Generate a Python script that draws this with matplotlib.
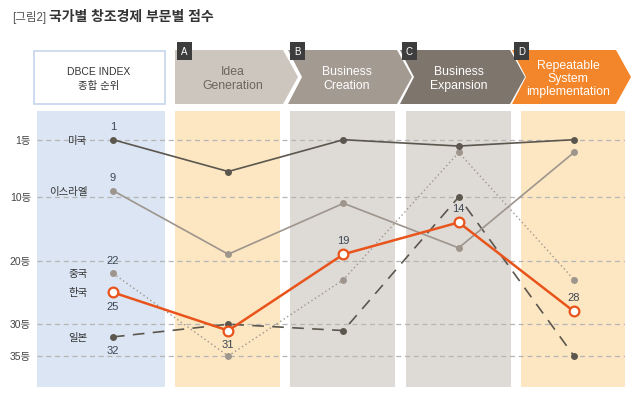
import matplotlib
matplotlib.use('Agg')
import matplotlib.pyplot as plt
from matplotlib.patches import Polygon, Rectangle

plt.rcParams['font.family'] = ['Liberation Sans', 'Noto Sans CJK KR']

# data: rank per stage (lower = better)
stages = ['DBCE INDEX\n종합 순위', 'Idea\nGeneration', 'Business\nCreation',
          'Business\nExpansion', 'Repeatable\nSystem\nimplementation']
stage_letters = ['A', 'B', 'C', 'D']
usa = [1, 6, 1, 2, 1]
israel = [9, 19, 11, 18, 3]
china = [22, 35, 23, 3, 23]
korea = [25, 31, 19, 14, 28]
japan = [32, 30, 31, 10, 35]
country_names = ['미국', '이스라엘', '중국', '한국', '일본']
rank_ticks = [1, 10, 20, 30, 35]
rank_labels = ['1등', '10등', '20등', '30등', '35등']

DARK = '#5b574e'
GREY = '#9e958d'
ORANGE = '#e8541b'
LABEL = '#3b4754'

fig = plt.figure(figsize=(6.4, 4.02), dpi=100)

# header layer in pixel coords
hdr = fig.add_axes([0, 0, 1, 1])
hdr.set_xlim(0, 640)
hdr.set_ylim(402, 0)
hdr.axis('off')

hdr.text(12, 17, '[그림2]', fontsize=8.3, color='#555555', va='center', ha='left')
hdr.text(49, 17, '국가별 창조경제 부문별 점수', fontsize=10, fontweight='bold',
         color='#333333', va='center', ha='left')

hdr.add_patch(Rectangle((34, 52), 131, 53, facecolor='white', edgecolor='#c6d6ee', lw=1.2))
hdr.text(99, 79, stages[0], ha='center', va='center', fontsize=7.5, color='#333333',
         linespacing=1.6)

chev_colors = ['#cdc6bf', '#a39a92', '#7e756d', '#f3862b']
chev_text = ['#6e655d', 'white', 'white', 'white']
lefts = [175, 288, 400, 512]
rights = [283, 397, 510, 616]
for i in range(4):
    l, r = lefts[i], rights[i]
    top, bot, mid = 51, 105, 78
    if i == 0:
        pts = [(l, top), (r, top), (r + 15, mid), (r, bot), (l, bot)]
    else:
        pts = [(l, top), (r, top), (r + 15, mid), (r, bot), (l, bot), (l + 14, mid)]
    hdr.add_patch(Polygon(pts, closed=True, facecolor=chev_colors[i], edgecolor='none'))
    hdr.add_patch(Rectangle((l + 2, 43), 15, 18, facecolor='#3d3d3d', edgecolor='none'))
    hdr.text(l + 9.5, 52, stage_letters[i], color='white', fontsize=7, ha='center', va='center')
    hdr.text((l + r) / 2 + 4, mid + 1, stages[i + 1], ha='center', va='center',
             fontsize=8.8, color=chev_text[i], linespacing=1.15)

# main chart
ax = fig.add_axes([37 / 640, 1 - 388 / 402, (625 - 37) / 640, (388 - 112) / 402])
ax.set_xlim(-0.659, 4.4425)
ax.set_ylim(39.87, -3.51)
ax.axis('off')

panel_cols = ['#dbe5f3', '#fde7c2', '#dedad6', '#dedad6', '#fde7c2']
for i, c in enumerate(panel_cols):
    lo = -0.659 if i == 0 else i - 0.46
    ax.axvspan(lo, i + 0.45, color=c, lw=0, zorder=0)

for t in rank_ticks:
    ax.axhline(t, color='#b5b5b5', lw=0.9, ls=(0, (4, 3)), zorder=1)
for t, lab in zip(rank_ticks, rank_labels):
    ax.text(-0.71, t, lab, ha='right', va='center', fontsize=7.5, color='#444444', clip_on=False)

x = range(len(stages))
ax.plot(x, china, color=GREY, lw=1, ls=(0, (1, 2)), marker='o', ms=5, mec='none', zorder=2)
ax.plot(x, japan, color=DARK, lw=1.2, ls=(0, (7, 5)), marker='o', ms=5, mec='none', zorder=2)
ax.plot(x, israel, color=GREY, lw=1.2, marker='o', ms=5, mec='none', zorder=3)
ax.plot(x, usa, color=DARK, lw=1.2, marker='o', ms=5, mec='none', zorder=3)
ax.plot(x, korea, color=ORANGE, lw=1.8, marker='o', ms=7, mfc='white', mec=ORANGE,
        mew=1.6, zorder=4)

# country names
for name, series in zip(country_names, [usa, israel, china, korea, japan]):
    ax.text(-0.22, series[0], name, ha='right', va='center', fontsize=7.5, color='#333333')

# value labels
lab_kw = dict(ha='center', fontsize=8, color=LABEL)
ax.text(0, usa[0] - 1.3, str(usa[0]), va='bottom', **lab_kw)
ax.text(0, israel[0] - 1.3, str(israel[0]), va='bottom', **lab_kw)
ax.text(0, china[0] - 1.3, str(china[0]), va='bottom', **lab_kw)
ax.text(0, korea[0] + 1.4, str(korea[0]), va='top', **lab_kw)
ax.text(0, japan[0] + 1.3, str(japan[0]), va='top', **lab_kw)
ax.text(1, korea[1] + 1.4, str(korea[1]), va='top', **lab_kw)
for i in [2, 3, 4]:
    ax.text(i, korea[i] - 1.5, str(korea[i]), va='bottom', **lab_kw)

fig.savefig('out.png', dpi=100)
